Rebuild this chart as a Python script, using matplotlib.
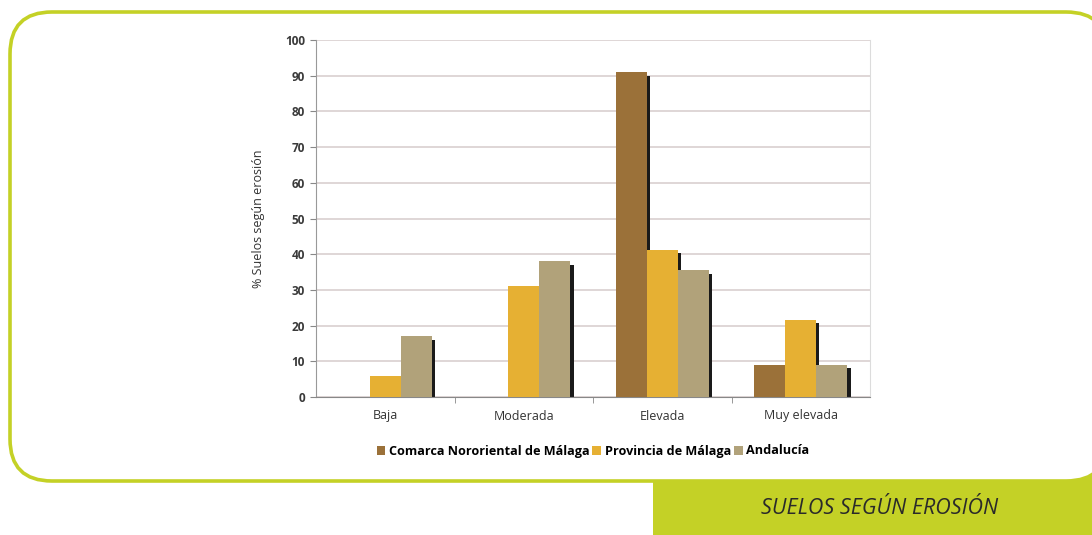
import numpy as np
import matplotlib.pyplot as plt
from matplotlib.patches import FancyBboxPatch, Rectangle

# -------------------- datos --------------------
categorias = ["Baja", "Moderada", "Elevada", "Muy elevada"]
series = ["Comarca Nororiental de Málaga", "Provincia de Málaga", "Andalucía"]
comarca = [0, 0, 91, 9]
provincia = [6, 31, 41.2, 21.7]
andalucia = [17, 38, 35.5, 9]
y_ticks = [0, 10, 20, 30, 40, 50, 60, 70, 80, 90, 100]

colores = ["#9b7139", "#e6b033", "#b1a27a"]
verde = "#c4d126"

plt.rcParams["font.family"] = ["Open Sans", "DejaVu Sans"]

fig = plt.figure(figsize=(10.92, 5.35), dpi=100)

# -------------------- marco de fondo (coordenadas en píxeles) --------------------
bg = fig.add_axes([0, 0, 1, 1])
bg.set_xlim(0, 1092)
bg.set_ylim(535, 0)
bg.axis("off")

bg.add_patch(Rectangle((653, 465), 1092 - 653, 75, facecolor=verde, edgecolor="none"))
bg.add_patch(FancyBboxPatch(
    (10, 12), 1098, 469,
    boxstyle="round,pad=0,rounding_size=42",
    facecolor="white", edgecolor=verde, linewidth=2.6
))
bg.text(880, 509, "SUELOS SEGÚN EROSIÓN", ha="center", va="center",
        fontsize=15.5, fontstyle="italic", color="#2a2a2a")

# -------------------- gráfico de barras --------------------
ax = fig.add_axes([316 / 1092, 1 - 397 / 535, (870 - 316) / 1092, (397 - 40) / 535])
ax.set_facecolor("none")

x = np.arange(len(categorias))
ancho = 0.225
offsets = [-ancho, 0, ancho]
sombra = 0.022

for vals, off, col, nombre in zip([comarca, provincia, andalucia], offsets, colores, series):
    vals = np.array(vals, dtype=float)
    # sombra negra a la derecha de cada barra
    alto_sombra = np.clip(vals - 1.0, 0, None)
    ax.bar(x + off + sombra, alto_sombra, width=ancho, color="#1a1a1a", zorder=2)
    ax.bar(x + off, vals, width=ancho, color=col, label=nombre, zorder=3)

ax.set_xlim(-0.5, len(categorias) - 0.5)
ax.set_ylim(0, 100)
ax.set_yticks(y_ticks)
ax.set_yticklabels([str(t) for t in y_ticks], fontsize=8.5, fontweight="bold", color="#3a3a3a")
ax.set_xticks(x)
ax.set_xticklabels(categorias, fontsize=9, color="#333333")
ax.tick_params(axis="x", length=0, pad=9)
ax.set_xticks(np.arange(0.5, len(categorias) - 0.5, 1), minor=True)
ax.tick_params(axis="x", which="minor", length=4, color="#888888", direction="out")
ax.tick_params(axis="y", length=4, color="#888888", pad=4)

ax.grid(axis="y", color="#d9d0cf", linewidth=1.2, zorder=0)
ax.set_axisbelow(True)
ax.spines["top"].set_visible(False)
ax.spines["right"].set_color("#dcdcdc")
ax.spines["left"].set_color("#999999")
ax.spines["bottom"].set_color("#888888")

ax.set_ylabel("% Suelos según erosión", fontsize=9, color="#333333", labelpad=14)

fig.legend(loc="center", bbox_to_anchor=(593 / 1092, 1 - 451 / 535), ncol=3, frameon=False,
           handlelength=0.7, handleheight=0.7, handletextpad=0.3,
           columnspacing=0.2, prop={"weight": "bold", "size": 9.1})

fig.savefig("out.png", dpi=100)
